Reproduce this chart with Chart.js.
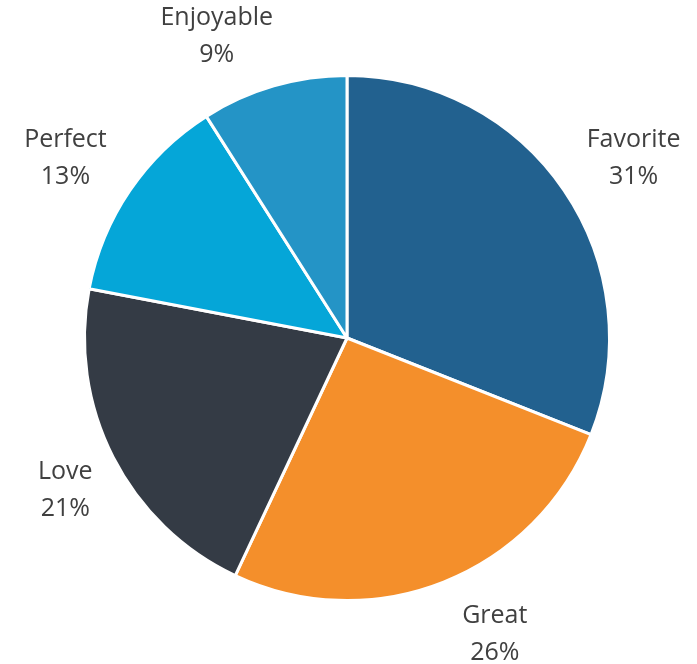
<!DOCTYPE html>
<html>
<head>
<meta charset="utf-8">
<script src="https://cdn.jsdelivr.net/npm/chart.js@4/dist/chart.umd.min.js"></script>
<style>
  html, body { margin: 0; padding: 0; background: #ffffff; }
  #wrap { width: 697px; height: 664px; position: relative; }
</style>
</head>
<body>
<div id="wrap"><canvas id="chart" width="697" height="664"></canvas></div>
<script>
const categories = ['Favorite', 'Great', 'Love', 'Perfect', 'Enjoyable'];
const shares = [31, 26, 21, 13, 9];
const sliceColors = ['#22618f', '#f48f2b', '#343b45', '#05a6d8', '#2494c6'];

// Fine adjustments (px) applied to each outside label after placing it on the mid-angle ray
const labelNudge = [[13, 4], [26, -13], [13, 0], [-8, 4], [-38, 14]];

// Category name and percentage written outside each slice
const outsideLabels = {
  id: 'outsideLabels',
  afterDatasetsDraw(chart) {
    const ctx = chart.ctx;
    const meta = chart.getDatasetMeta(0);
    const total = shares.reduce((a, b) => a + b, 0);
    ctx.save();
    ctx.font = '25px "Open Sans", sans-serif';
    ctx.fillStyle = '#404040';
    ctx.textAlign = 'center';
    ctx.textBaseline = 'alphabetic';
    meta.data.forEach((arc, i) => {
      const mid = (arc.startAngle + arc.endAngle) / 2;
      const dist = arc.outerRadius * 1.26;
      const x = arc.x + Math.cos(mid) * dist + labelNudge[i][0];
      const y = arc.y + Math.sin(mid) * dist + labelNudge[i][1];
      const pct = Math.round(shares[i] / total * 100) + '%';
      ctx.fillText(categories[i], x, y - 9.5);
      ctx.fillText(pct, x, y + 27.5);
    });
    ctx.restore();
  }
};

new Chart(document.getElementById('chart'), {
  type: 'pie',
  data: {
    labels: categories,
    datasets: [{
      data: shares,
      backgroundColor: sliceColors,
      borderColor: '#ffffff',
      borderWidth: 3
    }]
  },
  options: {
    responsive: false,
    animation: false,
    layout: { padding: { top: 74, bottom: 62, left: 83, right: 86 } },
    plugins: {
      legend: { display: false },
      tooltip: { enabled: false }
    }
  },
  plugins: [outsideLabels]
});
</script>
</body>
</html>
